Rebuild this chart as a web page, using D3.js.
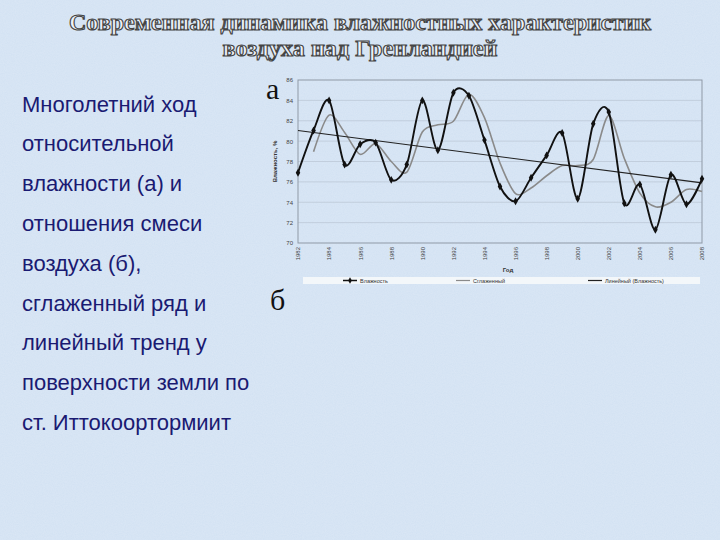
<!DOCTYPE html>
<html><head><meta charset="utf-8">
<script src="https://cdn.jsdelivr.net/npm/d3@7"></script>
<style>html,body{margin:0;padding:0;background:#d5e3f4;}svg{display:block;}</style>
</head><body>
<script>
// ---- data ----
const years = [1982,1983,1984,1985,1986,1987,1988,1989,1990,1991,1992,1993,1994,1995,1996,1997,1998,1999,2000,2001,2002,2003,2004,2005,2006,2007,2008];
const humidity = [76.9,81.05,84.0,77.7,79.7,79.85,76.2,77.7,84.0,79.1,84.75,84.45,80.1,75.55,74.1,76.4,78.6,80.8,74.35,81.7,82.85,73.9,75.75,71.3,76.7,73.8,76.3];
const smoothYears = [1983,1984,1985,1986,1987,1988,1989,1990,1991,1992,1993,1994,1995,1996,1997,1998,1999,2000,2001,2002,2003,2004,2005,2006,2007,2008];
const smoothed = [78.95,82.55,80.85,78.7,79.75,78.0,76.95,80.9,81.6,81.95,84.6,82.3,77.85,74.85,75.4,76.6,77.6,77.6,78.2,82.5,78.3,74.9,73.55,74.0,75.25,75.05];
const trendYears = [1982,2008];
const trendValues = [81.05,75.9];
const yTicks = [70,72,74,76,78,80,82,84,86];
const xTicks = [1982,1984,1986,1988,1990,1992,1994,1996,1998,2000,2002,2004,2006,2008];
const titleLines = ["Современная динамика влажностных характеристик","воздуха над Гренландией"];
const captionLines = ["Многолетний ход","относительной","влажности (а) и","отношения смеси","воздуха (б),","сглаженный ряд и","линейный тренд у","поверхности земли по","ст. Иттокоортормиит"];
const legendLabels = ["Влажность","Сглаженный","Линейный (Влажность)"];

const W=720,H=540;
const svg=d3.select("body").append("svg").attr("width",W).attr("height",H);
const defs=svg.append("defs");
const f=defs.append("filter").attr("id","tex").attr("x",0).attr("y",0).attr("width","100%").attr("height","100%");
f.append("feTurbulence").attr("type","fractalNoise").attr("baseFrequency",0.9).attr("numOctaves",2).attr("seed",3).attr("result","n");
f.append("feColorMatrix").attr("type","matrix").attr("values","0 0 0 0 1  0 0 0 0 1  0 0 0 0 1  0 0 0 0.35 -0.05");
svg.append("rect").attr("width",W).attr("height",H).attr("fill","#d3e2f3");
svg.append("rect").attr("width",W).attr("height",H).attr("filter","url(#tex)").attr("opacity",0.6);

// title
const tl=[{t:titleLines[0],y:30,len:582},{t:titleLines[1],y:56,len:275}];
svg.selectAll("text.title").data(tl).join("text").attr("class","title")
  .attr("x",360).attr("y",d=>d.y).attr("text-anchor","middle")
  .attr("textLength",d=>d.len).attr("lengthAdjust","spacingAndGlyphs")
  .attr("font-family","Liberation Serif, serif").attr("font-weight","bold").attr("font-size",23)
  .attr("fill","#eef2f8").attr("stroke","#444").attr("stroke-width",1.1)
  .text(d=>d.t);

// caption
svg.selectAll("text.cap").data(captionLines).join("text").attr("class","cap")
  .attr("x",22).attr("y",(d,i)=>111.5+i*39.8)
  .attr("font-family","Liberation Sans, Arial, sans-serif").attr("font-size",22)
  .attr("fill","#1a1a72").text(d=>d);

// panel letters
svg.append("text").attr("x",266).attr("y",99).attr("font-family","Liberation Serif, serif").attr("font-size",30).attr("fill","#111").text("а");
svg.append("text").attr("x",270).attr("y",310).attr("font-family","Liberation Serif, serif").attr("font-size",30).attr("fill","#111").text("б");

// chart
const L=298,R=702,T=80,B=243;
const x=d3.scaleLinear().domain([1982,2008]).range([L,R]);
const y=d3.scaleLinear().domain([70,86]).range([B,T]);

const g=svg.append("g");
g.append("g").selectAll("line").data(yTicks.slice(1,-1)).join("line")
  .attr("x1",L).attr("x2",R).attr("y1",d=>y(d)).attr("y2",d=>y(d))
  .attr("stroke","#b9c4d2").attr("stroke-width",0.7);
g.append("rect").attr("x",L).attr("y",T).attr("width",R-L).attr("height",B-T)
  .attr("fill","none").attr("stroke","#8f99a6").attr("stroke-width",1);

const ya=g.append("g").attr("transform",`translate(${L},0)`)
  .call(d3.axisLeft(y).tickValues(yTicks).tickSize(0).tickPadding(5));
ya.select(".domain").remove();
ya.selectAll("text").attr("font-family","Liberation Sans, Arial, sans-serif").attr("font-size",6).attr("fill","#444");

const xa=g.append("g").attr("transform",`translate(0,${B})`)
  .call(d3.axisBottom(x).tickValues(xTicks).tickFormat(d3.format("d")).tickSize(0));
xa.select(".domain").remove();
xa.selectAll("text").attr("font-family","Liberation Sans, Arial, sans-serif").attr("font-size",6).attr("fill","#444")
  .attr("transform","rotate(-90)").attr("text-anchor","end").attr("x",-4).attr("y",0).attr("dy","0.32em");

g.append("text").attr("transform",`translate(277,${(T+B)/2}) rotate(-90)`).attr("text-anchor","middle")
  .attr("font-family","Liberation Sans, Arial, sans-serif").attr("font-size",6).attr("font-weight","bold").attr("fill","#333").text("Влажность, %");
g.append("text").attr("x",508).attr("y",272).attr("text-anchor","middle")
  .attr("font-family","Liberation Sans, Arial, sans-serif").attr("font-size",6).attr("font-weight","bold").attr("fill","#333").text("Год");

// lines
const curve=d3.curveCardinal.tension(0.1);
const sm=smoothYears.map((d,i)=>[d,smoothed[i]]);
g.append("path").datum(sm).attr("fill","none").attr("stroke","#8a8a8a").attr("stroke-width",1.6)
  .attr("d",d3.line().x(d=>x(d[0])).y(d=>y(d[1])).curve(curve));
const tr=trendYears.map((d,i)=>[d,trendValues[i]]);
g.append("path").datum(tr).attr("fill","none").attr("stroke","#222").attr("stroke-width",1.1)
  .attr("d",d3.line().x(d=>x(d[0])).y(d=>y(d[1])));
const hd=years.map((d,i)=>[d,humidity[i]]);
g.append("path").datum(hd).attr("fill","none").attr("stroke","#111").attr("stroke-width",1.9)
  .attr("d",d3.line().x(d=>x(d[0])).y(d=>y(d[1])).curve(curve));
g.selectAll("path.mk").data(hd).join("path").attr("class","mk")
  .attr("transform",d=>`translate(${x(d[0])},${y(d[1])})`)
  .attr("d",d3.symbol(d3.symbolDiamond,18)).attr("fill","#111");

// legend
const lg=svg.append("g");
lg.append("rect").attr("x",303).attr("y",277).attr("width",397).attr("height",7).attr("fill","#f6f8fb").attr("opacity",0.9);
const items=[{x:343,c:"#111",m:true},{x:456,c:"#8a8a8a",m:false},{x:588,c:"#222",m:false}];
items.forEach((it,i)=>{
  lg.append("line").attr("x1",it.x).attr("x2",it.x+14).attr("y1",280.5).attr("y2",280.5).attr("stroke",it.c).attr("stroke-width",it.m?1.5:1.2);
  if(it.m) lg.append("path").attr("transform",`translate(${it.x+7},280.5)`).attr("d",d3.symbol(d3.symbolDiamond,12)).attr("fill","#111");
  lg.append("text").attr("x",it.x+17).attr("y",282.5).attr("font-family","Liberation Sans, Arial, sans-serif").attr("font-size",5.5).attr("fill","#333").text(legendLabels[i]);
});
</script>
</body></html>
